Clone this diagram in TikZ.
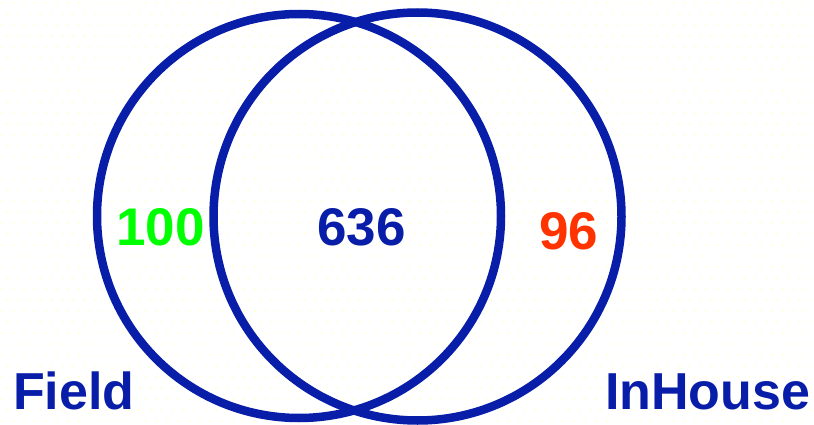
\documentclass[tikz,border=0pt]{standalone}
\usepackage{fontspec}
\setmainfont{Liberation Sans}
\definecolor{vennblue}{RGB}{8,30,168}
\definecolor{venngreen}{RGB}{0,255,0}
\definecolor{vennred}{RGB}{255,51,0}
\definecolor{dotyellow}{RGB}{255,255,205}
\begin{document}
\begin{tikzpicture}[x=1pt,y=-1pt,
  ring/.style={draw=vennblue,line width=8.5pt},
  bignum/.style={font=\fontsize{53}{60}\selectfont\bfseries,inner sep=0pt,anchor=base west},
  setlabel/.style={font=\fontsize{52}{60}\selectfont\bfseries,inner sep=0pt,anchor=base west,text=vennblue}]
\useasboundingbox (0,0) rectangle (814,425);
\fill[white] (0,0) rectangle (814,425);
\foreach \i in {0,...,73}{
  \foreach \j in {0,...,38}{
    \fill[dotyellow] ({\i*11+2+mod(\j,2)*5.5},{\j*11+3}) circle (1pt);
  }
}
\draw[ring] (299,216) circle (202pt);
\draw[ring] (417.5,216.5) circle (204pt);
\node[bignum,text=venngreen] (a) at (116,245) {100};
\node[bignum,text=vennblue] (b) at (317,245) {636};
\node[bignum,text=vennred] (c) at (539,249) {96};
\node[setlabel] (f) at (13,409) {Field};
\node[setlabel] (h) at (605,409) {InHouse};
\end{tikzpicture}
\end{document}
